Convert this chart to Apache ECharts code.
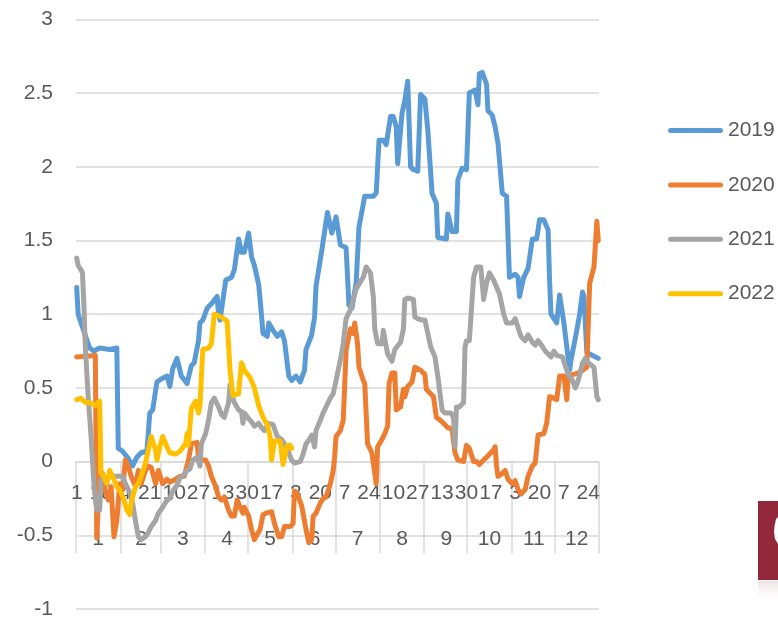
<!DOCTYPE html>
<html><head><meta charset="utf-8">
<script src="https://cdn.jsdelivr.net/npm/echarts@6/dist/echarts.min.js"></script>
<style>html,body{margin:0;padding:0;background:#fff}#c{width:778px;height:618px}</style>
</head><body><div id="c"></div>
<script>
// ---- axis definitions ----
const monthLengths = [31,28,31,30,31,30,31,31,30,31,30,31];
const monthLabels = ['1','2','3','4','5','6','7','8','9','10','11','12'];
const seriesNames = ['2019','2020','2021','2022'];
const yMin = -1, yMax = 3, yStep = 0.5;

// ---- series values (day-of-year index, value) ----
const days2019 = [0,1,3,9,12,16,23,28,29,32,36,39,42,45,49,51,53,56,59,63,65,67,70,73,77,80,82,85,86,88,91,94,98,99,100,104,108,110,113,115,117,120,122,124,127,128,130,133,134,137,140,143,145,148,150,153,156,159,160,164,166,167,171,175,178,181,184,188,190,192,195,197,201,207,209,211,214,216,219,221,223,224,227,229,231,233,235,238,240,243,245,248,251,252,258,259,262,265,266,269,272,274,278,280,281,283,286,287,290,292,294,297,300,302,306,308,309,312,315,318,321,323,326,329,330,331,335,337,340,342,344,345,349,351,353,354,356,360,364];
const vals2019 = [1.18,1.0,0.94,0.77,0.75,0.77,0.76,0.77,0.09,0.07,0.02,-0.03,0.03,0.06,0.07,0.33,0.35,0.54,0.56,0.58,0.51,0.63,0.70,0.58,0.53,0.65,0.67,0.82,0.94,0.96,1.04,1.07,1.12,1.0,0.96,1.23,1.25,1.30,1.51,1.42,1.42,1.55,1.39,1.33,1.20,1.10,0.87,0.85,0.94,0.89,0.85,0.88,0.82,0.58,0.55,0.58,0.54,0.62,0.76,0.86,0.98,1.19,1.43,1.69,1.55,1.66,1.47,1.45,1.06,1.04,1.21,1.59,1.80,1.80,1.82,2.18,2.18,2.15,2.34,2.34,2.27,2.02,2.36,2.45,2.58,2.0,1.98,1.97,2.49,2.46,2.25,1.82,1.75,1.52,1.51,1.68,1.56,1.56,1.91,1.99,1.98,2.50,2.52,2.42,2.63,2.64,2.56,2.38,2.35,2.27,2.16,1.82,1.80,1.25,1.27,1.25,1.12,1.25,1.31,1.51,1.51,1.64,1.64,1.57,1.23,1.0,0.94,1.13,0.94,0.78,0.62,0.69,0.89,1.0,1.15,1.12,0.74,0.72,0.70];

const days2020 = [0,13,14,16,18,20,22,24,26,28,30,32,34,36,38,41,43,45,48,50,52,55,57,60,63,65,69,72,75,78,80,84,85,87,90,92,94,97,99,101,103,106,108,110,112,114,116,117,120,122,124,125,128,130,132,136,138,141,143,145,149,151,152,154,157,160,162,164,165,167,170,172,174,177,179,180,181,184,186,187,188,191,193,194,196,197,200,201,202,203,206,208,209,210,213,215,217,218,220,222,223,226,228,229,231,234,236,240,243,244,247,249,251,255,257,259,262,264,266,270,272,274,277,279,281,284,286,288,291,292,293,294,297,299,301,304,306,308,310,313,315,318,320,322,326,328,330,333,335,337,340,342,343,346,350,353,356,358,361,363,364];
const vals2020 = [0.71,0.72,-0.52,-0.10,-0.08,-0.20,-0.26,-0.17,-0.51,-0.40,-0.15,-0.19,0.01,-0.03,-0.10,-0.17,-0.06,-0.15,-0.06,-0.03,-0.04,-0.15,-0.06,-0.15,-0.12,-0.14,-0.12,-0.10,-0.10,0.01,0.12,0.13,0.03,0.01,0.01,-0.03,-0.10,-0.17,-0.24,-0.26,-0.24,-0.33,-0.37,-0.37,-0.26,-0.31,-0.35,-0.31,-0.37,-0.46,-0.53,-0.51,-0.46,-0.36,-0.35,-0.34,-0.42,-0.51,-0.51,-0.44,-0.44,-0.42,-0.20,-0.22,-0.30,-0.46,-0.55,-0.53,-0.37,-0.35,-0.28,-0.25,-0.24,-0.15,-0.06,0.03,0.17,0.21,0.28,0.51,0.76,0.90,0.87,0.94,0.80,0.64,0.55,0.53,0.33,0.12,0.06,-0.08,-0.15,0.10,0.15,0.19,0.24,0.53,0.60,0.60,0.35,0.37,0.49,0.44,0.51,0.54,0.64,0.62,0.59,0.49,0.46,0.44,0.30,0.27,0.25,0.23,0.22,0.06,0.01,0.0,0.11,0.09,0.0,0.0,-0.02,0.01,0.03,0.05,0.08,0.10,-0.03,-0.10,-0.08,-0.06,-0.12,-0.15,-0.13,-0.19,-0.22,-0.19,-0.10,-0.03,-0.01,0.18,0.19,0.26,0.44,0.43,0.42,0.58,0.58,0.42,0.58,0.59,0.60,0.62,0.64,1.21,1.32,1.63,1.50];

const days2021 = [0,1,3,4,5,6,8,10,12,13,14,16,17,25,32,34,37,39,41,43,45,48,50,52,55,57,60,63,65,67,70,72,74,77,79,81,84,86,87,90,92,94,96,99,101,103,106,107,108,110,113,115,116,117,120,122,124,127,129,131,134,137,140,143,145,148,150,152,156,158,160,163,164,166,167,170,172,174,177,179,181,184,186,188,191,193,195,198,200,202,205,207,208,210,213,214,216,217,220,222,226,228,229,231,235,236,238,241,243,245,247,250,252,255,257,261,263,264,265,267,270,271,272,274,277,279,282,284,286,288,291,294,295,298,300,304,306,308,310,313,315,318,320,322,325,327,331,333,335,339,341,343,346,348,350,353,355,357,361,363,364];
const vals2021 = [1.38,1.33,1.30,1.28,1.07,0.78,0.44,0.17,-0.15,-0.26,-0.33,-0.33,-0.12,-0.10,-0.10,-0.15,-0.21,-0.28,-0.40,-0.51,-0.53,-0.51,-0.48,-0.44,-0.40,-0.35,-0.31,-0.26,-0.25,-0.20,-0.16,-0.11,-0.10,-0.06,-0.05,0.01,0.03,-0.03,0.12,0.19,0.28,0.40,0.43,0.37,0.32,0.30,0.40,0.52,0.46,0.40,0.35,0.34,0.26,0.33,0.29,0.27,0.24,0.26,0.23,0.21,0.26,0.25,0.17,0.15,0.12,0.06,0.01,-0.01,0.0,0.05,0.12,0.16,0.18,0.10,0.21,0.28,0.33,0.37,0.43,0.46,0.55,0.69,0.80,0.97,1.03,1.10,1.17,1.22,1.25,1.32,1.28,1.12,0.90,0.80,0.80,0.89,0.78,0.73,0.68,0.76,0.81,0.90,1.10,1.11,1.10,0.98,0.97,0.96,0.96,0.87,0.78,0.71,0.58,0.35,0.33,0.33,0.30,0.10,0.37,0.37,0.40,0.78,0.82,0.82,1.25,1.32,1.32,1.10,1.21,1.28,1.23,1.16,1.14,1.0,0.94,0.94,0.97,0.91,0.85,0.82,0.86,0.81,0.79,0.82,0.78,0.75,0.71,0.75,0.72,0.71,0.65,0.59,0.55,0.50,0.55,0.67,0.70,0.67,0.64,0.44,0.42];

const days2022 = [0,3,6,9,13,16,17,19,21,23,26,28,30,33,35,37,38,41,43,45,48,50,52,55,56,58,60,63,65,69,72,76,77,78,80,83,85,86,88,92,94,96,101,105,107,109,113,115,117,121,124,127,130,133,135,136,138,142,144,147,149,150];
const vals2022 = [0.42,0.43,0.40,0.40,0.38,0.41,-0.08,-0.10,-0.15,-0.06,-0.12,-0.17,-0.19,-0.26,-0.33,-0.36,-0.28,-0.17,-0.15,-0.10,-0.01,0.08,0.17,0.08,0.01,0.10,0.17,0.10,0.06,0.05,0.07,0.12,0.19,0.11,0.36,0.41,0.33,0.38,0.76,0.77,0.80,1.0,0.98,0.95,0.62,0.45,0.46,0.67,0.62,0.57,0.50,0.38,0.30,0.25,0.17,0.01,0.14,0.14,-0.02,0.11,0.11,0.09];

// ---- build categories ----
const dayCategories = [];
const monthCategories = [];
const monthStartIdx = new Set();
const monthMidIdx = new Set();
monthLengths.forEach(function (len, m) {
  monthStartIdx.add(dayCategories.length);
  monthMidIdx.add(dayCategories.length + Math.floor(len / 2));
  for (let d = 1; d <= len; d++) {
    dayCategories.push(String(d));
    monthCategories.push(monthLabels[m]);
  }
});

const pair = (ds, vs) => ds.map((d, i) => [d, vs[i]]);
const seriesData = [pair(days2019, vals2019), pair(days2020, vals2020), pair(days2021, vals2021), pair(days2022, vals2022)];
const colors = ['#5B9BD5', '#ED7D31', '#A5A5A5', '#FFC000'];

const FONT = 'Liberation Sans, Arial, sans-serif';
const TXT = '#595959';
const GRID = '#D9D9D9';

// grid geometry
const gridTop = 19.3, gridBottom = 9, chartH = 618;
const plotH = chartH - gridTop - gridBottom;
const zeroOffset = -plotH * (0 - yMin) / (yMax - yMin); // move category axes up to value 0

const chart = echarts.init(document.getElementById('c'), null, {renderer: 'canvas'});
chart.setOption({
  animation: false,
  backgroundColor: '#fff',
  grid: {left: 76, right: 179, top: gridTop, bottom: gridBottom, containLabel: false, outerBoundsMode: 'none'},
  legend: {
    data: seriesNames,
    orient: 'vertical',
    left: 668, top: 120,
    padding: 0,
    itemWidth: 55, itemHeight: 5, itemGap: 33.4,
    icon: 'path://M2.5,0 H52.5 A2.5,2.5 0 0 1 52.5,5 H2.5 A2.5,2.5 0 0 1 2.5,0 Z',
    textStyle: {fontFamily: FONT, fontSize: 21, color: TXT, lineHeight: 21}
  },
  xAxis: [
    {
      type: 'category', data: dayCategories, boundaryGap: true,
      position: 'bottom', offset: zeroOffset,
      axisLine: {show: true, onZero: false, lineStyle: {color: GRID, width: 1.5}},
      axisTick: {show: false},
      splitLine: {show: false},
      axisLabel: {interval: 16, color: TXT, fontSize: 21, fontFamily: FONT, margin: 21}
    },
    {
      type: 'category', data: monthCategories, boundaryGap: true,
      position: 'bottom', offset: zeroOffset,
      axisLine: {show: false, onZero: false},
      axisTick: {show: true, interval: function (idx) { return monthStartIdx.has(idx); }, length: 92, lineStyle: {color: GRID, width: 1.5}},
      splitLine: {show: false},
      axisLabel: {interval: function (idx) { return monthMidIdx.has(idx); }, color: TXT, fontSize: 21, fontFamily: FONT, margin: 67}
    }
  ],
  yAxis: {
    type: 'value', min: yMin, max: yMax, interval: yStep,
    axisLine: {show: false}, axisTick: {show: false},
    splitLine: {show: true, lineStyle: {color: GRID, width: 1.5}},
    axisLabel: {color: TXT, fontSize: 21, fontFamily: FONT, margin: 23, padding: [0, 0, 8, 0]}
  },
  series: seriesNames.map(function (name, i) {
    return {
      name: name, type: 'line', xAxisIndex: 0, data: seriesData[i],
      symbol: 'none', showSymbol: false, smooth: false,
      itemStyle: {color: colors[i]},
      lineStyle: {color: colors[i], width: 5, cap: 'round', join: 'round'},
      emphasis: {disabled: true}
    };
  }),
  graphic: [
    {type: 'rect', shape: {x: 758, y: 501, width: 20, height: 79}, style: {fill: '#93283B'}, z: 10},
    {type: 'polygon', shape: {points: [[778, 517], [776, 519], [774.5, 526], [774, 532], [775, 539], [778, 544]]}, style: {fill: '#FFFFFF'}, z: 11},
    {type: 'rect', shape: {x: 758, y: 581, width: 20, height: 22}, style: {fill: new echarts.graphic.LinearGradient(0, 0, 0, 1, [{offset: 0, color: 'rgba(160,90,100,0.18)'}, {offset: 1, color: 'rgba(255,255,255,0)'}])}, z: 10}
  ]
});
</script></body></html>
